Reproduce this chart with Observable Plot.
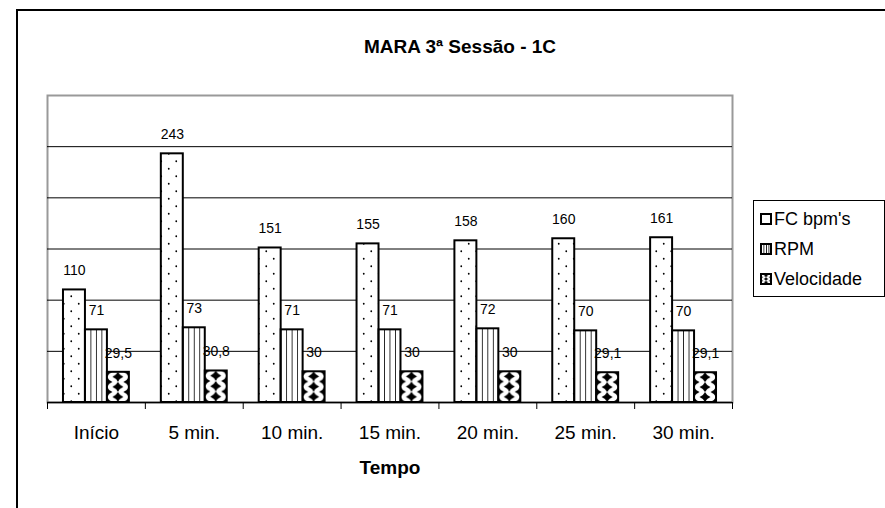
<!DOCTYPE html>
<html><head><meta charset="utf-8">
<script src="https://cdn.jsdelivr.net/npm/d3@7"></script>
<script src="https://cdn.jsdelivr.net/npm/@observablehq/plot@0.6"></script>
<style>body{margin:0;background:#fff} svg{display:block}</style>
</head><body><div id="chart"></div>
<script>
const categories = ["Início", "5 min.", "10 min.", "15 min.", "20 min.", "25 min.", "30 min."];
const seriesNames = ["FC bpm's", "RPM", "Velocidade"];
const fcValues = [110, 243, 151, 155, 158, 160, 161];
const rpmValues = [71, 73, 71, 71, 72, 70, 70];
const velValues = [29.5, 30.8, 30, 30, 30, 29.1, 29.1];
const gridValues = [50, 100, 150, 200, 250];
const yDomain = [0, 300];
const titleText = "MARA 3ª Sessão - 1C";
const xTitle = "Tempo";

const seriesValues = [fcValues, rpmValues, velValues];
const patternIds = ["pat-dots", "pat-vlines", "pat-check"];
const data = [];
categories.forEach((c, i) => seriesValues.forEach((vals, s) => data.push({cat: c, i, s, value: vals[i]})));

const groupPad = 16 / 98, barW = 22 / 98;
const fmt = v => String(v).replace(".", ",");
const font = "'Liberation Sans', Arial, sans-serif";

const barMarks = seriesValues.map((vals, s) =>
  Plot.rectY(data.filter(d => d.s === s), {
    x1: d => d.i + groupPad + barW * d.s,
    x2: d => d.i + groupPad + barW * (d.s + 1),
    y1: 0, y2: "value",
    fill: `url(#${patternIds[s]})`, stroke: "black", strokeWidth: 2
  })
);

const chart = Plot.plot({
  width: 885, height: 508,
  marginLeft: 47, marginRight: 153, marginTop: 95, marginBottom: 106,
  style: {fontFamily: font, fontSize: "14px", color: "black", background: "white", overflow: "visible"},
  x: {type: "linear", domain: [0, categories.length], axis: null},
  y: {domain: yDomain, axis: null},
  marks: [
    Plot.frame({stroke: "#999", strokeWidth: 2}),
    Plot.ruleY(gridValues, {stroke: "black", strokeWidth: 1}),
    ...barMarks,
    Plot.ruleY([0], {stroke: "black", strokeWidth: 1.5}),
    Plot.axisX({ticks: d3.range(0, categories.length + 1), tickSize: 7, tickFormat: () => "", label: null, stroke: "black"}),
    Plot.axisX({ticks: categories.map((c, i) => i + 0.5), tickSize: 0, tickPadding: 23,
      tickFormat: t => categories[Math.floor(t)], label: null, fontSize: 19, fill: "black"}),
    Plot.text(data, {
      x: d => d.i + groupPad + barW * (d.s + 0.5), y: "value",
      text: d => fmt(d.value), dy: -19, fontSize: 14, fill: "black"
    }),
    Plot.text([xTitle], {x: categories.length / 2, frameAnchor: "bottom", lineAnchor: "middle",
      dy: 65, fontWeight: "bold", fontSize: 19, fill: "black"})
  ]
});

const svg = d3.select(chart);
const defs = svg.insert("defs", ":first-child");
// dotted pattern
const pd = defs.append("pattern").attr("id", "pat-dots").attr("patternUnits", "userSpaceOnUse")
  .attr("width", 15).attr("height", 15);
pd.append("rect").attr("width", 15).attr("height", 15).attr("fill", "white");
pd.append("circle").attr("cx", 3.75).attr("cy", 3.75).attr("r", 0.9).attr("fill", "black");
pd.append("circle").attr("cx", 11.25).attr("cy", 11.25).attr("r", 0.9).attr("fill", "black");
// vertical lines, aligned to each bar (3 inner lines)
const pv = defs.append("pattern").attr("id", "pat-vlines").attr("patternUnits", "objectBoundingBox")
  .attr("width", 0.25).attr("height", 1);
pv.append("rect").attr("x", -1).attr("width", 40).attr("height", 1000).attr("fill", "white");
pv.append("rect").attr("x", -0.8).attr("width", 1.6).attr("height", 1000).attr("fill", "black");
// diamonds (concave 4-point stars), aligned to each bar
const pc = defs.append("pattern").attr("id", "pat-check").attr("patternUnits", "objectBoundingBox")
  .attr("patternContentUnits", "objectBoundingBox").attr("width", 1).attr("height", 1 / 3);
pc.append("rect").attr("width", 1).attr("height", 1 / 3).attr("fill", "white");
const h = 1 / 6, w = 0.25, k = 0.3;
function star(cx, cy) {
  return `M${cx},${cy - h} Q${cx + w * k},${cy - h * k} ${cx + w},${cy} ` +
    `Q${cx + w * k},${cy + h * k} ${cx},${cy + h} ` +
    `Q${cx - w * k},${cy + h * k} ${cx - w},${cy} ` +
    `Q${cx - w * k},${cy - h * k} ${cx},${cy - h} Z `;
}
pc.append("path").attr("fill", "black").attr("d",
  star(0.5, h) + star(0, 0) + star(1, 0) + star(0, 2 * h) + star(1, 2 * h));

// outer chart border
svg.insert("rect", "defs + *").attr("x", 17).attr("y", 10).attr("width", 900).attr("height", 520)
  .attr("fill", "white").attr("stroke", "black").attr("stroke-width", 2);

// title
svg.append("text").attr("x", 460).attr("y", 53).attr("text-anchor", "middle")
  .attr("font-family", font).attr("font-size", 19).attr("font-weight", "bold").attr("fill", "black")
  .text(titleText);

// legend
const lg = svg.append("g").attr("text-anchor", "start");
lg.append("rect").attr("x", 753.5).attr("y", 200.5).attr("width", 131).attr("height", 96)
  .attr("fill", "white").attr("stroke", "black").attr("stroke-width", 1);
const legendY = [219, 249, 279];
seriesNames.forEach((name, s) => {
  lg.append("rect").attr("x", 761).attr("y", legendY[s] - 5).attr("width", 10).attr("height", 10)
    .attr("fill", `url(#${patternIds[s]})`).attr("stroke", "black").attr("stroke-width", 2);
  lg.append("text").attr("x", 774).attr("y", legendY[s]).attr("dy", "0.35em").attr("text-anchor", "start")
    .attr("font-family", font).attr("font-size", 18).attr("fill", "black").text(name);
});

document.getElementById("chart").appendChild(chart);
</script>
</body></html>
